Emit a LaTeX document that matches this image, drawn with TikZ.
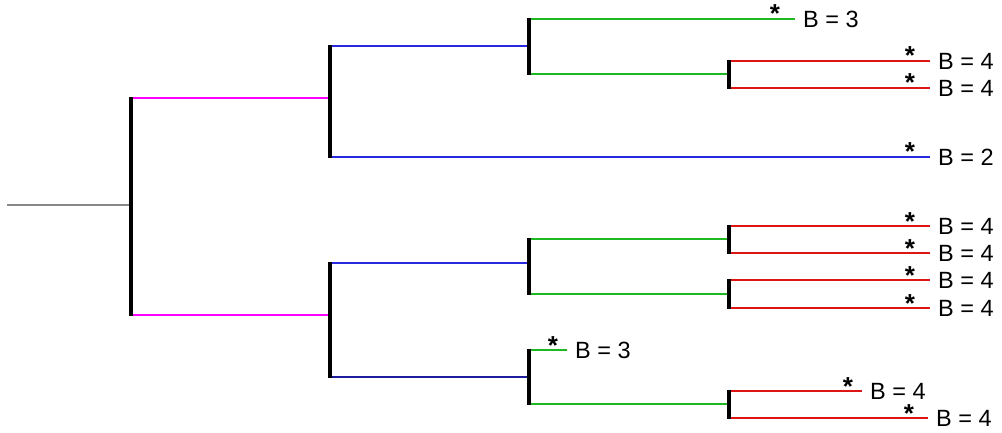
\documentclass[tikz,border=0pt]{standalone}
\usepackage{fontspec}
\setmainfont{Liberation Sans}
\definecolor{cmag}{HTML}{FF00FF}
\definecolor{cblue}{HTML}{2828E0}
\definecolor{cgreen}{HTML}{20B820}
\definecolor{cred}{HTML}{DD1515}
\definecolor{cgray}{HTML}{888888}
\begin{document}
\begin{tikzpicture}[x=1pt,y=-1pt,
  bar/.style={line width=4pt,black,line cap=butt},
  br/.style={line width=1.1pt},
  lab/.style={anchor=west,inner sep=0pt,font=\fontsize{23.5}{26}\selectfont},
  ast/.style={anchor=base,inner sep=0pt,font=\fontsize{26}{28}\selectfont\bfseries}]
\useasboundingbox (0,0) rectangle (1002,433);
% root
\coordinate (r0) at (7,205);
\coordinate (R) at (131,205);
\coordinate (Rt) at (131,98);
\coordinate (Rb) at (131,315);
% internal nodes: attach points / bar ends
\coordinate (A) at (330,98);  \coordinate (At) at (330,46);  \coordinate (Ab) at (330,157);
\coordinate (B) at (330,315); \coordinate (Bt) at (330,263); \coordinate (Bb) at (330,377);
\coordinate (C) at (529,46);  \coordinate (Ct) at (529,19);  \coordinate (Cb) at (529,74);
\coordinate (D) at (729,74);  \coordinate (Dt) at (729,61);  \coordinate (Db) at (729,88);
\coordinate (E) at (529,263); \coordinate (Et) at (529,239); \coordinate (Eb) at (529,294);
\coordinate (F) at (729,239); \coordinate (Ft) at (729,226); \coordinate (Fb) at (729,253);
\coordinate (G) at (729,294); \coordinate (Gt) at (729,280); \coordinate (Gb) at (729,308);
\coordinate (H) at (529,377); \coordinate (Ht) at (529,350); \coordinate (Hb) at (529,404);
\coordinate (I) at (729,404); \coordinate (It) at (729,391); \coordinate (Ib) at (729,418);
% leaves
\coordinate (l1) at (795,19);
\coordinate (l2) at (930,61);
\coordinate (l3) at (930,88);
\coordinate (l4) at (930,157);
\coordinate (l5) at (930,226);
\coordinate (l6) at (930,253);
\coordinate (l7) at (930,280);
\coordinate (l8) at (930,308);
\coordinate (l9) at (567,350);
\coordinate (l10) at (862,391);
\coordinate (l11) at (928,418);
% branches
\draw[br,cgray] (r0) -- (R);
\draw[br,cmag] (Rt) -- (A);
\draw[br,cmag] (Rb) -- (B);
\draw[br,cblue] (At) -- (C);
\draw[br,cblue] (Ab) -- (l4);
\draw[br,cblue] (Bt) -- (E);
\draw[br,cblue!70!black] (Bb) -- (H);
\draw[br,cgreen] (Ct) -- (l1);
\draw[br,cgreen] (Cb) -- (D);
\draw[br,cgreen] (Et) -- (F);
\draw[br,cgreen] (Eb) -- (G);
\draw[br,cgreen] (Ht) -- (l9);
\draw[br,cgreen] (Hb) -- (I);
\draw[br,cred] (Dt) -- (l2);
\draw[br,cred] (Db) -- (l3);
\draw[br,cred] (Ft) -- (l5);
\draw[br,cred] (Fb) -- (l6);
\draw[br,cred] (Gt) -- (l7);
\draw[br,cred] (Gb) -- (l8);
\draw[br,cred] (It) -- (l10);
\draw[br,cred] (Ib) -- (l11);
% bars
\foreach \n in {R,A,B,C,D,E,F,G,H,I}{
  \draw[bar] ([yshift=0.6pt]\n t) -- ([yshift=-0.6pt]\n b);
}
% labels
\foreach \l/\t/\s in {l1/3/20,l2/4/20,l3/4/20,l4/2/20,l5/4/20,l6/4/20,l7/4/20,l8/4/20,l9/3/14,l10/4/14,l11/4/19}{
  \node[ast] (a\l) at ([xshift=-\s pt,yshift=-4pt]\l) {*};
  \node[lab] (t\l) at ([xshift=8pt]\l) {B = \t};
}
\end{tikzpicture}
\end{document}
